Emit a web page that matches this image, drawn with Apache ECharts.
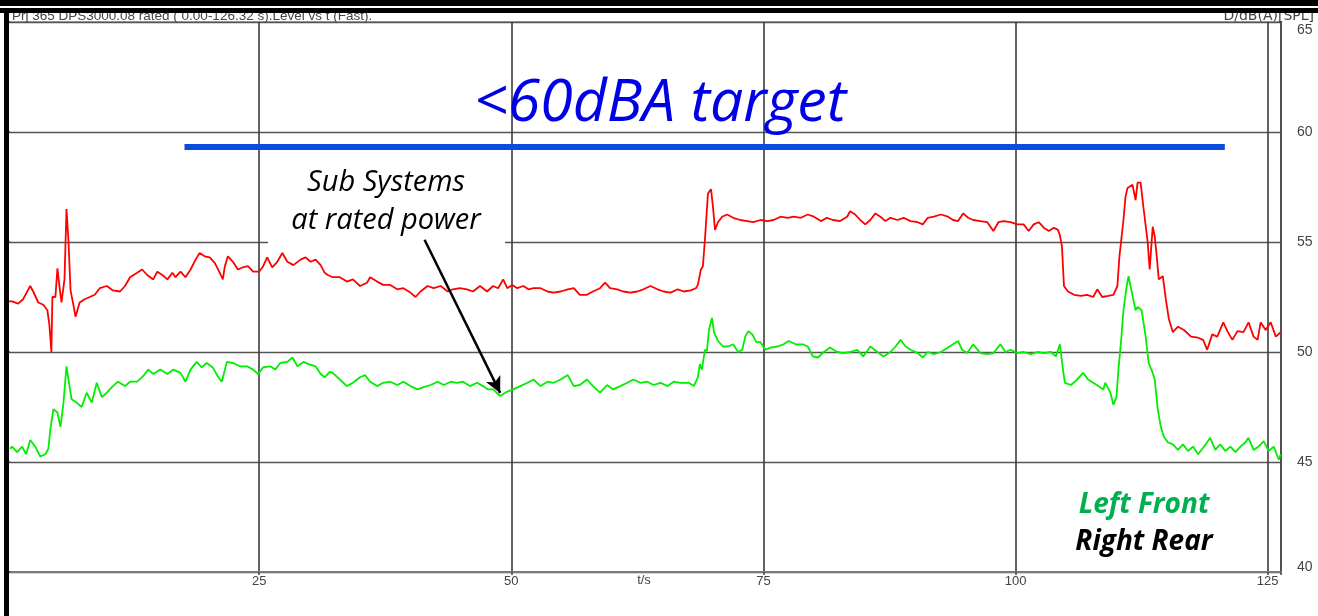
<!DOCTYPE html>
<html>
<head>
<meta charset="utf-8">
<script src="https://cdn.jsdelivr.net/npm/echarts@6/dist/echarts.min.js"></script>
<style>
html,body{margin:0;padding:0;background:#fff;}
#chart{width:1318px;height:616px;}
</style>
</head>
<body>
<div id="chart"></div>
<script>
// ---- Data ----
const xTicks = [25, 50, 75, 100, 125];
const yTicks = [40, 45, 50, 55, 60, 65];
const tMax = 126.32;

// Right Rear (red trace)
const rearTime = [0.2,0.5,1.1,1.6,2.3,2.6,3.1,3.6,4.0,4.2,4.4,4.5,4.8,5.0,5.2,5.4,5.7,5.9,6.1,6.3,6.6,6.8,7.2,7.7,8.2,8.7,9.2,9.9,10.5,11.2,11.7,12.2,12.9,13.4,13.9,14.5,14.9,15.4,15.9,16.4,16.7,17.2,17.7,18.2,18.7,19.1,19.6,20.1,20.6,21.1,21.4,21.6,21.9,22.4,22.9,23.4,23.9,24.4,25.0,25.4,25.8,26.3,26.8,27.3,27.8,28.4,29.1,29.6,30.1,30.6,31.1,31.5,31.8,32.3,33.0,33.7,34.3,35.0,35.7,36.0,36.7,37.3,38.0,38.7,39.3,40.0,40.5,41.0,41.7,42.3,43.0,43.7,44.2,44.9,45.6,46.2,46.9,47.6,48.2,48.7,49.2,49.6,50.1,50.6,51.2,51.7,52.2,52.9,53.6,54.2,54.9,55.6,56.2,56.8,57.5,58.1,58.8,59.3,59.8,60.5,61.1,61.8,62.5,63.1,63.8,64.5,65.1,65.8,66.5,67.1,67.8,68.3,68.5,68.8,69.0,69.2,69.5,69.8,70.0,70.2,70.5,70.9,71.4,72.0,72.7,73.4,74.0,74.7,75.4,76.0,76.7,77.4,78.0,78.7,79.4,80.0,80.7,81.3,81.9,82.6,83.3,83.6,84.1,84.6,85.1,85.6,86.1,86.6,87.1,87.6,88.3,88.9,89.6,90.3,90.8,91.3,91.9,92.6,93.3,93.8,94.3,94.8,95.3,95.8,96.5,97.2,97.8,98.3,98.8,99.5,100.2,100.8,101.3,101.8,102.3,102.8,103.3,103.8,104.2,104.4,104.6,104.8,105.2,105.8,106.5,107.1,107.7,108.1,108.6,109.2,109.7,110.1,110.3,110.7,110.9,111.1,111.6,111.9,112.1,112.4,112.7,113.1,113.3,113.6,113.8,114.0,114.2,114.6,114.9,115.2,115.6,116.1,116.7,117.4,118.1,118.6,119.0,119.5,120.0,120.6,121.0,121.5,122.0,122.6,123.1,123.6,124.0,124.3,124.8,125.3,125.8,126.3];
const rearLevel = [52.3,52.3,52.2,52.4,53.0,52.75,52.25,52.15,51.9,51.25,50.0,52.5,52.5,53.8,53.0,52.25,53.3,56.5,55.0,52.8,52.1,51.6,52.25,52.4,52.5,52.6,52.9,53.0,52.8,52.75,53.0,53.4,53.6,53.75,53.5,53.3,53.65,53.5,53.3,53.6,53.4,53.65,53.4,53.75,54.2,54.5,54.35,54.3,54.05,53.6,53.3,53.9,54.35,54.1,53.75,53.85,53.9,53.65,53.65,53.9,54.3,53.85,54.1,54.5,54.1,53.95,54.2,54.3,54.1,54.2,53.95,53.6,53.5,53.4,53.4,53.2,53.3,53.0,53.15,53.4,53.2,53.05,53.05,52.85,52.9,52.7,52.5,52.75,53.0,52.9,53.0,52.75,52.85,52.9,52.85,52.75,53.0,52.75,53.0,52.9,53.3,52.9,53.05,52.9,53.0,52.85,52.9,52.9,52.75,52.7,52.75,52.85,52.9,52.6,52.6,52.75,52.9,53.15,52.9,52.85,52.75,52.7,52.75,52.85,53.0,52.85,52.75,52.7,52.85,52.75,52.8,52.9,53.05,53.75,53.9,55.1,57.2,57.4,56.6,55.55,55.9,56.15,56.25,56.1,56.0,55.95,55.9,56.0,55.95,56.0,56.15,56.1,56.15,56.1,56.25,56.15,55.95,56.1,56.0,55.95,56.15,56.4,56.25,56.0,55.8,56.0,56.3,56.15,55.95,56.1,56.0,56.1,55.95,55.9,55.8,56.1,56.15,56.25,56.15,56.0,55.95,56.3,56.1,56.0,55.95,55.9,55.5,55.9,55.95,55.9,55.8,55.8,55.5,55.8,55.9,55.65,55.5,55.65,55.55,55.3,54.8,53.0,52.75,52.6,52.55,52.6,52.5,52.85,52.5,52.55,52.6,53.0,54.35,56.0,57.05,57.45,57.6,56.9,57.7,57.7,56.5,55.0,53.75,55.7,55.25,54.35,53.3,53.45,52.4,51.5,50.9,51.15,51.0,50.7,50.65,50.55,50.1,50.8,50.7,51.35,50.95,50.55,50.95,50.9,51.35,50.7,50.55,51.35,51.0,51.35,50.7,50.9];

// Left Front (green trace)
const frontTime = [0.3,0.5,1.0,1.5,1.9,2.3,2.8,3.3,3.8,4.1,4.3,4.6,5.0,5.3,5.6,5.9,6.2,6.4,6.9,7.4,7.9,8.4,8.9,9.4,9.9,10.4,11.0,11.7,12.2,12.9,13.5,14.0,14.5,15.2,15.9,16.5,17.2,17.7,18.2,18.8,19.3,19.8,20.4,20.9,21.3,21.8,22.4,23.1,23.8,24.4,24.9,25.4,26.1,26.6,27.1,27.8,28.3,28.8,29.4,29.9,30.6,31.1,31.5,32.0,32.3,33.0,33.7,34.3,35.0,35.5,36.0,36.7,37.3,38.0,38.7,39.3,40.0,40.7,41.3,42.0,42.7,43.3,44.0,44.6,45.2,45.9,46.6,47.2,47.7,48.2,48.9,49.6,50.2,50.9,51.6,52.2,52.9,53.6,54.2,54.9,55.6,56.2,56.8,57.5,58.1,58.8,59.5,60.1,60.8,61.5,62.1,62.8,63.5,64.1,64.8,65.5,66.1,66.8,67.6,68.1,68.5,68.7,68.9,69.2,69.4,69.6,69.9,70.1,70.5,71.0,71.5,72.0,72.5,72.9,73.2,73.5,73.9,74.3,74.7,75.2,75.7,76.4,77.0,77.5,78.2,78.9,79.4,79.9,80.4,81.0,81.6,82.3,82.9,83.6,84.3,84.9,85.6,86.3,86.9,87.6,88.1,88.6,89.1,89.6,90.3,90.8,91.3,91.9,92.6,93.3,93.8,94.3,94.7,95.2,95.8,96.5,97.2,97.8,98.5,99.0,99.5,100.2,100.8,101.5,102.2,102.8,103.5,104.0,104.4,104.7,104.9,105.5,106.0,106.7,107.2,107.7,108.2,108.7,108.9,109.4,109.7,110.0,110.2,110.5,110.7,111.0,111.2,111.6,111.9,112.1,112.5,112.9,113.2,113.6,113.8,114.1,114.4,114.7,115.1,115.6,116.1,116.6,117.1,117.6,118.1,118.6,119.0,119.3,119.8,120.3,120.8,121.3,121.8,122.3,122.8,123.1,123.6,124.1,124.6,125.1,125.6,126.1,126.3];
const frontLevel = [45.6,45.7,45.45,45.7,45.35,46.0,45.7,45.25,45.35,45.6,46.5,47.4,47.25,46.6,47.7,49.35,48.45,47.85,47.7,47.5,48.15,47.7,48.6,47.95,48.15,48.4,48.65,48.45,48.65,48.65,48.9,49.2,49.0,49.2,49.0,49.2,49.05,48.65,49.2,49.55,49.3,49.5,49.3,48.9,48.65,49.55,49.5,49.35,49.35,49.2,49.0,49.3,49.35,49.2,49.5,49.55,49.75,49.35,49.55,49.45,49.35,49.0,48.85,49.1,49.05,48.75,48.45,48.6,48.85,48.95,48.65,48.45,48.6,48.65,48.5,48.65,48.45,48.3,48.4,48.5,48.65,48.5,48.65,48.6,48.65,48.45,48.6,48.45,48.3,48.3,48.0,48.2,48.3,48.45,48.6,48.75,48.45,48.65,48.6,48.75,48.95,48.45,48.5,48.75,48.45,48.15,48.5,48.3,48.45,48.6,48.75,48.6,48.65,48.5,48.6,48.45,48.65,48.6,48.6,48.45,48.85,49.45,49.2,50.1,50.05,51.0,51.55,50.9,50.5,50.25,50.25,50.35,50.0,50.1,50.7,50.95,50.8,50.45,50.45,50.1,50.2,50.25,50.35,50.5,50.35,50.35,50.25,49.8,49.75,50.0,50.2,50.0,49.95,50.0,50.1,49.8,50.25,50.0,49.8,50.0,50.25,50.55,50.25,50.1,49.95,49.75,50.0,49.9,50.0,50.2,50.35,50.5,50.1,49.95,50.35,49.95,49.9,49.95,50.35,50.0,50.1,49.95,50.0,49.9,50.0,49.95,50.0,49.8,50.35,49.2,48.6,48.5,48.7,49.05,48.75,48.6,48.45,48.3,48.6,48.15,47.6,47.95,49.2,50.7,51.9,52.95,53.45,52.55,51.9,52.05,51.9,50.7,49.5,49.05,48.75,47.4,46.6,46.15,45.9,45.8,45.55,45.8,45.5,45.7,45.35,45.65,45.9,46.1,45.55,45.8,45.5,45.7,45.45,45.7,45.9,46.1,45.55,45.7,45.95,45.5,45.7,45.1,45.35];

// Target line and annotation arrow (data coordinates)
const targetLevel = 59.32;
const targetSpan = [17.6, 120.75];
const arrowFrom = [41.4, 55.1];
const arrowTo = [48.9, 48.14];

const zip = (a, b) => a.map((v, i) => [v, b[i]]);

const chart = echarts.init(document.getElementById('chart'), null, {renderer: 'canvas'});

const labelFont = 'Liberation Sans';

chart.setOption({
  animation: false,
  backgroundColor: '#ffffff',
  grid: {left: 7, right: 37, top: 22, bottom: 44, show: true, borderColor: '#8a8a8a', borderWidth: 1.5, backgroundColor: 'transparent'},
  xAxis: {
    type: 'value', min: 0, max: tMax, interval: 25,
    axisLine: {show: true, lineStyle: {color: '#7a7a7a', width: 2}},
    axisTick: {show: true, length: 3, lineStyle: {color: '#444', width: 1.5}},
    axisLabel: {color: '#444', fontSize: 13, fontFamily: labelFont, margin: 3,
      formatter: v => xTicks.includes(v) ? String(v) : ''},
    splitLine: {show: true, lineStyle: {color: '#3c3c3c', width: 1.6}}
  },
  yAxis: {
    type: 'value', position: 'right', min: 40, max: 65, interval: 5,
    axisLine: {show: true, lineStyle: {color: '#333', width: 2}},
    axisTick: {show: true, length: 3, lineStyle: {color: '#444', width: 1.5}},
    axisLabel: {color: '#444', fontSize: 14, fontFamily: labelFont, margin: 16,
      formatter: v => v === yTicks[yTicks.length - 1] ? '{hi|' + v + '}' : (v === yTicks[0] ? '{lo|' + v + '}' : String(v)),
      rich: {
        hi: {color: '#444', fontSize: 14, fontFamily: labelFont, padding: [16, 0, 0, 0]},
        lo: {color: '#444', fontSize: 14, fontFamily: labelFont, padding: [0, 0, 10, 0]}
      }},
    splitLine: {show: true, lineStyle: {color: '#555', width: 1.3}}
  },
  series: [
    {
      name: 'Left Front', type: 'line', data: zip(frontTime, frontLevel),
      showSymbol: false, symbol: 'none', z: 3,
      lineStyle: {color: '#00ee00', width: 1.8}, itemStyle: {color: '#00ee00'},
      markLine: {
        silent: true, symbol: ['none', 'arrow'], symbolSize: [12, 16], z: 6,
        label: {show: false},
        lineStyle: {color: '#000', width: 2.5, type: 'solid'},
        data: [[{coord: arrowFrom}, {coord: arrowTo}]]
      }
    },
    {
      name: 'Right Rear', type: 'line', data: zip(rearTime, rearLevel),
      showSymbol: false, symbol: 'none', z: 3,
      lineStyle: {color: '#ff0000', width: 1.8}, itemStyle: {color: '#ff0000'}
    },
    {
      name: 'Target', type: 'line', data: targetSpan.map(t => [t, targetLevel]),
      showSymbol: false, symbol: 'none', z: 4,
      lineStyle: {color: '#0a4ddd', width: 6}
    }
  ],
  graphic: [
    {type: 'rect', z: 1, shape: {x: 268, y: 160, width: 237, height: 86}, style: {fill: '#fff'}},
    {type: 'text', z: 5, x: 12, y: 16, style: {text: 'Prj 365 DPS3000.08 rated ( 0.00-126.32 s).Level vs t (Fast).', fill: '#444', font: '13.5px "Liberation Sans"', textVerticalAlign: 'middle', textAlign: 'left'}},
    {type: 'text', z: 5, x: 1314, y: 16, style: {text: 'D/dB(A)[SPL]', fill: '#444', font: '14px "DejaVu Sans"', textVerticalAlign: 'middle', textAlign: 'right'}},
    {type: 'text', z: 5, x: 644, y: 580, style: {text: 't/s', fill: '#444', font: '13px "Liberation Sans"', textVerticalAlign: 'middle', textAlign: 'center'}},
    {type: 'rect', z: 10, shape: {x: 0, y: 0, width: 1318, height: 6}, style: {fill: '#000'}},
    {type: 'rect', z: 10, shape: {x: 0, y: 8, width: 1318, height: 5}, style: {fill: '#000'}},
    {type: 'rect', z: 10, shape: {x: 4, y: 8, width: 5, height: 608}, style: {fill: '#000'}},
    {type: 'text', z: 6, x: 660, y: 104, style: {text: '<60dBA target', fill: '#0000e6', font: 'italic 59px "Open Sans"', textAlign: 'center', textVerticalAlign: 'middle'}},
    {type: 'text', z: 6, x: 386, y: 183, style: {text: 'Sub Systems', fill: '#000', font: 'italic 29px "Open Sans"', textAlign: 'center', textVerticalAlign: 'middle'}},
    {type: 'text', z: 6, x: 386, y: 221, style: {text: 'at rated power', fill: '#000', font: 'italic 29px "Open Sans"', textAlign: 'center', textVerticalAlign: 'middle'}},
    {type: 'text', z: 6, x: 1144, y: 505, style: {text: 'Left Front', fill: '#00b050', font: 'italic bold 28px "Open Sans"', textAlign: 'center', textVerticalAlign: 'middle'}},
    {type: 'text', z: 6, x: 1144, y: 542, style: {text: 'Right Rear', fill: '#000', font: 'italic bold 28px "Open Sans"', textAlign: 'center', textVerticalAlign: 'middle'}}
  ]
});
</script>
</body>
</html>
